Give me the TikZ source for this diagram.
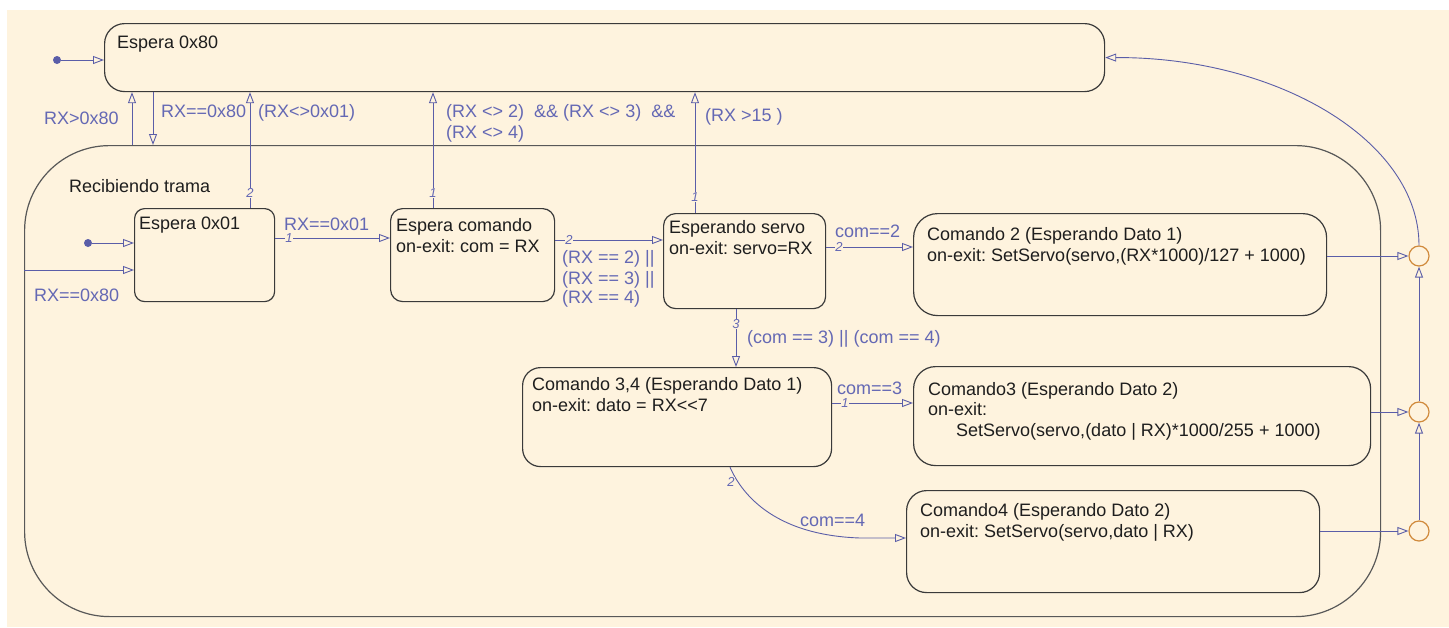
\documentclass[tikz,border=0pt]{standalone}
\usepackage{fontspec}
\setmainfont{Liberation Sans}[Ligatures=TeXOff]
\frenchspacing
\usetikzlibrary{arrows.meta}
\definecolor{cream}{HTML}{FEF3DE}
\definecolor{trline}{HTML}{5A5DA8}
\definecolor{lbltext}{HTML}{6468B4}
\definecolor{juncol}{HTML}{D08A3C}
\definecolor{stborder}{HTML}{3A3A3A}
\definecolor{sttext}{HTML}{1E1E1E}
\begin{document}
\begin{tikzpicture}[x=1pt,y=-1pt,
  st/.style={draw=stborder, line width=1.2pt, inner sep=0pt, anchor=north west},
  txt/.style={inner sep=0pt, anchor=base west, font=\fontsize{18}{21}\selectfont, text=sttext},
  lbl/.style={inner sep=0pt, anchor=base west, font=\fontsize{18}{21}\selectfont, text=lbltext},
  num/.style={inner sep=0.8pt, fill=cream, font=\fontsize{13}{15}\selectfont\itshape, text=lbltext},
  tr/.style={draw=trline, line width=0.9pt, -{Triangle[open,length=11pt,width=8pt]}},
  dot/.style={circle, fill=trline, inner sep=0pt, minimum size=8pt},
  junc/.style={circle, draw=juncol, line width=1.2pt, minimum size=20pt, inner sep=0pt}]
\useasboundingbox (0,0) rectangle (1449,627);
\fill[white] (0,0) rectangle (1449,627);
\fill[cream] (7,10) rectangle (1449,627);

% states
\node[st, minimum width=1000pt, minimum height=68pt, rounded corners=20pt] (e80) at (104,23) {};
\node[st, draw=stborder!85, minimum width=1356pt, minimum height=471pt, rounded corners=85pt] (rt) at (24,145) {};
\node[st, minimum width=140pt, minimum height=93pt, rounded corners=10pt] (e01) at (134,208) {};
\node[st, minimum width=164pt, minimum height=93pt, rounded corners=12pt] (ecom) at (390,208) {};
\node[st, minimum width=162pt, minimum height=95pt, rounded corners=12pt] (eser) at (663,213) {};
\node[st, minimum width=413pt, minimum height=102pt, rounded corners=24pt] (c2) at (913,213) {};
\node[st, minimum width=309pt, minimum height=99pt, rounded corners=18pt] (c34) at (522,367) {};
\node[st, minimum width=457pt, minimum height=99pt, rounded corners=22pt] (c3) at (913,366) {};
\node[st, minimum width=413pt, minimum height=102pt, rounded corners=20pt] (c4) at (906,490) {};

% state texts
\node[txt] (t80) at (117,48) {Espera 0x80};
\node[txt] (trt) at (69,192) {Recibiendo trama};
\node[txt] (t01) at (139,229) {Espera 0x01};
\node[txt] (tcom1) at (396,231) {Espera comando};
\node[txt] (tcom2) at (396,252) {on-exit: com = RX};
\node[txt] (tser1) at (669,233) {Esperando servo};
\node[txt] (tser2) at (669,254) {on-exit: servo=RX};
\node[txt] (tc21) at (927,240) {Comando 2 (Esperando Dato 1)};
\node[txt] (tc22) at (927,261) {on-exit: SetServo(servo,(RX*1000)/127 + 1000)};
\node[txt] (tc341) at (532,390) {Comando 3,4 (Esperando Dato 1)};
\node[txt] (tc342) at (532,411) {on-exit: dato = RX<{}<7};
\node[txt] (tc31) at (928,395) {Comando3 (Esperando Dato 2)};
\node[txt] (tc32) at (928,415) {on-exit:};
\node[txt] (tc33) at (956,436) {SetServo(servo,(dato | RX)*1000/255 + 1000)};
\node[txt] (tc41) at (920,516) {Comando4 (Esperando Dato 2)};
\node[txt] (tc42) at (920,537) {on-exit: SetServo(servo,dato | RX)};

% junctions and initial dots
\node[junc] (j1) at (1419,256) {};
\node[junc] (j2) at (1419,412) {};
\node[junc] (j3) at (1419,531) {};
\node[dot] (i0) at (57,60) {};
\node[dot] (i1) at (88,243) {};

% transitions
\draw[tr] (i0) -- (e80.west |- i0);
\draw[tr] (rt.north -| 132,0) -- (e80.south -| 132,0);
\draw[tr] (e80.south -| 153,0) -- (rt.north -| 153,0);
\draw[tr] (e01.north -| 250,0) -- (e80.south -| 250,0);
\draw[tr] (ecom.north -| 433,0) -- (e80.south -| 433,0);
\draw[tr] (eser.north -| 695,0) -- (e80.south -| 695,0);
\draw[tr] (i1) -- (e01.west |- i1);
\draw[tr] (rt.west |- 0,270) -- (e01.west |- 0,270);
\draw[tr] (e01.east |- 0,238) -- (ecom.west |- 0,238);
\draw[tr] (ecom.east |- 0,240) -- (eser.west |- 0,240);
\draw[tr] (eser.east |- 0,247) -- (c2.west |- 0,247);
\draw[tr] (eser.south -| 736,0) -- (c34.north -| 736,0);
\draw[tr] (c34.east |- 0,403) -- (c3.west |- 0,403);
\draw[tr] (c34.south -| 730,0) .. controls (740,490) and (770,535) .. (860,538) -- (c4.west |- 0,538);
\draw[tr] (c2.east |- j1) -- (j1);
\draw[tr] (c3.east |- j2) -- (j2);
\draw[tr] (c4.east |- j3) -- (j3);
\draw[tr] (j3) -- (j2);
\draw[tr] (j2) -- (j1);
\draw[tr] (j1.north) .. controls (1419,141) and (1278,57) .. (e80.east);

% priority numbers
\node[num] (n1) at (250,193) {2};
\node[num] (n2) at (433,193) {1};
\node[num] (n3) at (695,197) {1};
\node[num] (n4) at (289,238) {1};
\node[num] (n5) at (569,240) {2};
\node[num] (n6) at (839,247) {2};
\node[num] (n7) at (736,324) {3};
\node[num] (n8) at (845,403) {1};
\node[num] (n9) at (731,482) {2};

% guards
\node[lbl] (g1) at (44,124) {RX>0x80};
\node[lbl] (g2) at (161,117) {RX==0x80};
\node[lbl] (g3) at (258,117) {(RX<>0x01)};
\node[lbl] (g4a) at (446,117) {(RX <> 2)\ \ \&\& (RX <> 3)\ \ \&\&};
\node[lbl] (g4b) at (446,138) {(RX <> 4)};
\node[lbl] (g5) at (705,121) {(RX >15 )};
\node[lbl] (g6) at (284,230) {RX==0x01};
\node[lbl] (g7) at (34,301) {RX==0x80};
\node[lbl] (g8a) at (562,263) {(RX == 2) ||};
\node[lbl] (g8b) at (562,284) {(RX == 3) ||};
\node[lbl] (g8c) at (562,303) {(RX == 4)};
\node[lbl] (g9) at (835,237) {com==2};
\node[lbl] (g10) at (747,343) {(com == 3) || (com == 4)};
\node[lbl] (g11) at (837,394) {com==3};
\node[lbl] (g12) at (800,526) {com==4};
\end{tikzpicture}
\end{document}
